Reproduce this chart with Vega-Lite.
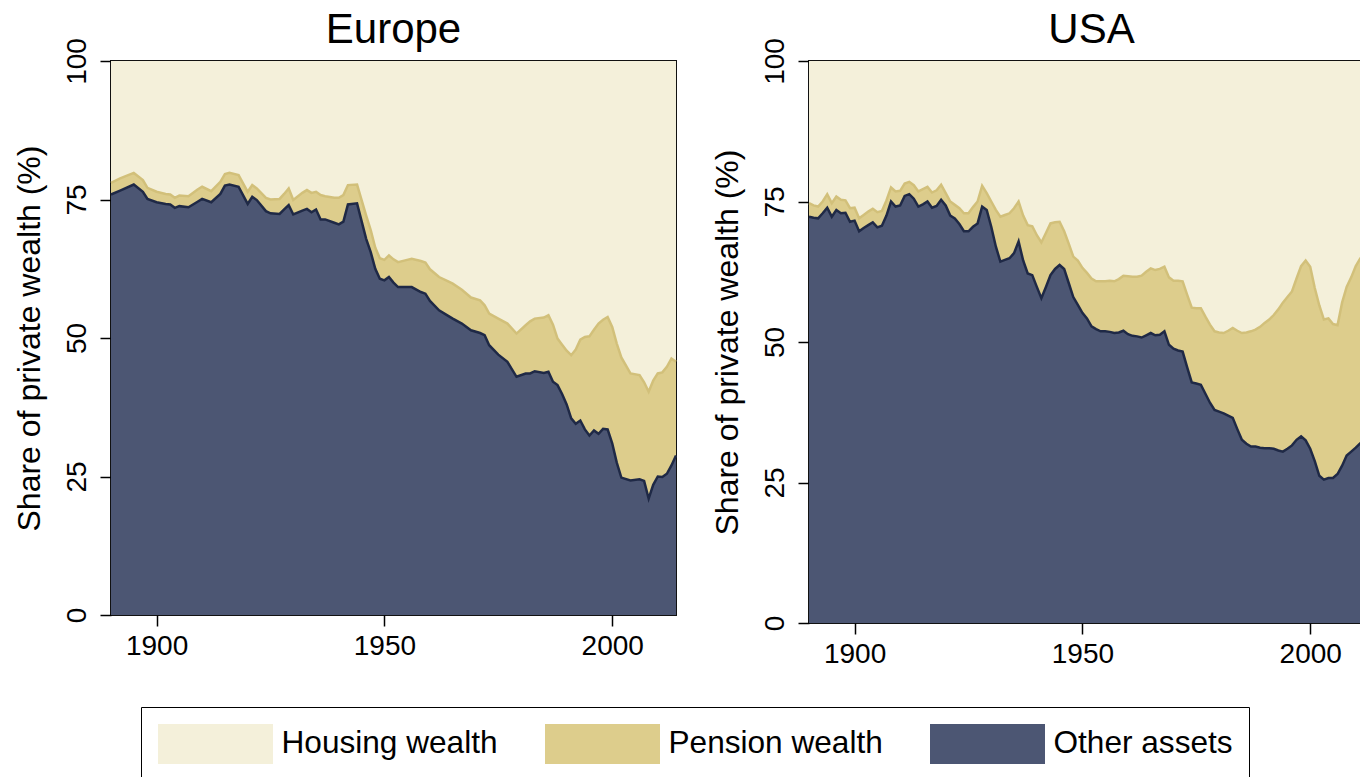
{
  "$schema": "https://vega.github.io/schema/vega-lite/v6.json",
  "padding": {"left": 12, "top": 7, "right": 0, "bottom": 0},
  "background": "white",
  "config": {
    "font": "Liberation Sans",
    "view": {"stroke": "#111111", "strokeWidth": 2},
    "title": {"fontSize": 42, "fontWeight": "normal", "color": "black", "offset": -14, "baseline": "alphabetic", "font": "Liberation Sans"},
    "axis": {"grid": false, "domain": false, "tickColor": "black", "tickWidth": 1.5, "tickSize": 11, "labelFontSize": 28, "labelColor": "black", "titleFontSize": 32, "titleFontWeight": "normal", "titleColor": "black", "labelFont": "Liberation Sans", "titleFont": "Liberation Sans"}
  },
  "datasets": {
    "eu": [
      {"year":1890,"Other assets":75.9,"Pension wealth":2.1,"Housing wealth":22.0},
      {"year":1892,"Other assets":76.6,"Pension wealth":2.2,"Housing wealth":21.2},
      {"year":1895,"Other assets":77.7,"Pension wealth":2.1,"Housing wealth":20.2},
      {"year":1897,"Other assets":76.4,"Pension wealth":2.1,"Housing wealth":21.5},
      {"year":1898,"Other assets":75.1,"Pension wealth":2.0,"Housing wealth":22.9},
      {"year":1900,"Other assets":74.5,"Pension wealth":1.9,"Housing wealth":23.6},
      {"year":1902,"Other assets":74.2,"Pension wealth":1.8,"Housing wealth":24.0},
      {"year":1903,"Other assets":74.1,"Pension wealth":1.8,"Housing wealth":24.1},
      {"year":1904,"Other assets":73.5,"Pension wealth":1.8,"Housing wealth":24.7},
      {"year":1905,"Other assets":73.8,"Pension wealth":1.9,"Housing wealth":24.3},
      {"year":1907,"Other assets":73.6,"Pension wealth":2.0,"Housing wealth":24.4},
      {"year":1909,"Other assets":74.6,"Pension wealth":2.2,"Housing wealth":23.2},
      {"year":1910,"Other assets":75.1,"Pension wealth":2.2,"Housing wealth":22.7},
      {"year":1912,"Other assets":74.5,"Pension wealth":2.0,"Housing wealth":23.5},
      {"year":1914,"Other assets":76.0,"Pension wealth":2.2,"Housing wealth":21.8},
      {"year":1915,"Other assets":77.5,"Pension wealth":2.1,"Housing wealth":20.4},
      {"year":1916,"Other assets":77.7,"Pension wealth":2.1,"Housing wealth":20.2},
      {"year":1918,"Other assets":77.3,"Pension wealth":2.1,"Housing wealth":20.6},
      {"year":1920,"Other assets":74.2,"Pension wealth":2.2,"Housing wealth":23.6},
      {"year":1921,"Other assets":75.5,"Pension wealth":2.1,"Housing wealth":22.4},
      {"year":1922,"Other assets":74.9,"Pension wealth":2.1,"Housing wealth":23.0},
      {"year":1924,"Other assets":72.9,"Pension wealth":2.4,"Housing wealth":24.7},
      {"year":1925,"Other assets":72.5,"Pension wealth":2.5,"Housing wealth":25.0},
      {"year":1927,"Other assets":72.4,"Pension wealth":2.7,"Housing wealth":24.9},
      {"year":1928,"Other assets":73.2,"Pension wealth":2.8,"Housing wealth":24.0},
      {"year":1929,"Other assets":74.0,"Pension wealth":3.0,"Housing wealth":23.0},
      {"year":1930,"Other assets":72.3,"Pension wealth":2.6,"Housing wealth":25.1},
      {"year":1932,"Other assets":73.0,"Pension wealth":3.2,"Housing wealth":23.8},
      {"year":1933,"Other assets":73.3,"Pension wealth":3.4,"Housing wealth":23.3},
      {"year":1934,"Other assets":72.7,"Pension wealth":3.5,"Housing wealth":23.8},
      {"year":1935,"Other assets":73.2,"Pension wealth":3.2,"Housing wealth":23.6},
      {"year":1936,"Other assets":71.4,"Pension wealth":4.4,"Housing wealth":24.2},
      {"year":1937,"Other assets":71.4,"Pension wealth":4.2,"Housing wealth":24.4},
      {"year":1939,"Other assets":70.8,"Pension wealth":4.5,"Housing wealth":24.7},
      {"year":1940,"Other assets":70.5,"Pension wealth":4.8,"Housing wealth":24.7},
      {"year":1941,"Other assets":71.0,"Pension wealth":4.8,"Housing wealth":24.2},
      {"year":1942,"Other assets":74.1,"Pension wealth":3.5,"Housing wealth":22.4},
      {"year":1944,"Other assets":74.3,"Pension wealth":3.4,"Housing wealth":22.3},
      {"year":1946,"Other assets":67.9,"Pension wealth":4.2,"Housing wealth":27.9},
      {"year":1947,"Other assets":65.5,"Pension wealth":4.0,"Housing wealth":30.5},
      {"year":1948,"Other assets":62.5,"Pension wealth":3.8,"Housing wealth":33.7},
      {"year":1949,"Other assets":60.7,"Pension wealth":3.7,"Housing wealth":35.6},
      {"year":1950,"Other assets":60.4,"Pension wealth":3.7,"Housing wealth":35.9},
      {"year":1951,"Other assets":61.0,"Pension wealth":3.9,"Housing wealth":35.1},
      {"year":1952,"Other assets":60.0,"Pension wealth":4.2,"Housing wealth":35.8},
      {"year":1953,"Other assets":59.2,"Pension wealth":4.5,"Housing wealth":36.3},
      {"year":1955,"Other assets":59.2,"Pension wealth":4.9,"Housing wealth":35.9},
      {"year":1956,"Other assets":59.2,"Pension wealth":5.1,"Housing wealth":35.7},
      {"year":1958,"Other assets":58.3,"Pension wealth":5.6,"Housing wealth":36.1},
      {"year":1959,"Other assets":58.0,"Pension wealth":5.6,"Housing wealth":36.4},
      {"year":1960,"Other assets":56.7,"Pension wealth":5.7,"Housing wealth":37.6},
      {"year":1962,"Other assets":55.0,"Pension wealth":6.0,"Housing wealth":39.0},
      {"year":1964,"Other assets":54.0,"Pension wealth":6.2,"Housing wealth":39.8},
      {"year":1965,"Other assets":53.5,"Pension wealth":6.3,"Housing wealth":40.2},
      {"year":1967,"Other assets":52.6,"Pension wealth":6.1,"Housing wealth":41.3},
      {"year":1969,"Other assets":51.4,"Pension wealth":5.9,"Housing wealth":42.7},
      {"year":1971,"Other assets":50.9,"Pension wealth":5.9,"Housing wealth":43.2},
      {"year":1972,"Other assets":50.5,"Pension wealth":5.4,"Housing wealth":44.1},
      {"year":1973,"Other assets":48.7,"Pension wealth":5.7,"Housing wealth":45.6},
      {"year":1975,"Other assets":47.0,"Pension wealth":6.5,"Housing wealth":46.5},
      {"year":1977,"Other assets":45.7,"Pension wealth":6.9,"Housing wealth":47.4},
      {"year":1979,"Other assets":43.0,"Pension wealth":7.8,"Housing wealth":49.2},
      {"year":1981,"Other assets":43.6,"Pension wealth":8.7,"Housing wealth":47.7},
      {"year":1982,"Other assets":43.6,"Pension wealth":9.4,"Housing wealth":47.0},
      {"year":1983,"Other assets":44.0,"Pension wealth":9.5,"Housing wealth":46.5},
      {"year":1985,"Other assets":43.7,"Pension wealth":10.0,"Housing wealth":46.3},
      {"year":1986,"Other assets":43.9,"Pension wealth":10.2,"Housing wealth":45.9},
      {"year":1987,"Other assets":42.1,"Pension wealth":10.3,"Housing wealth":47.6},
      {"year":1988,"Other assets":41.5,"Pension wealth":8.4,"Housing wealth":50.1},
      {"year":1989,"Other assets":39.9,"Pension wealth":8.9,"Housing wealth":51.2},
      {"year":1990,"Other assets":38.0,"Pension wealth":9.7,"Housing wealth":52.3},
      {"year":1991,"Other assets":35.5,"Pension wealth":11.4,"Housing wealth":53.1},
      {"year":1992,"Other assets":34.5,"Pension wealth":13.4,"Housing wealth":52.1},
      {"year":1993,"Other assets":35.1,"Pension wealth":14.6,"Housing wealth":50.3},
      {"year":1994,"Other assets":33.5,"Pension wealth":16.7,"Housing wealth":49.8},
      {"year":1995,"Other assets":32.4,"Pension wealth":17.9,"Housing wealth":49.7},
      {"year":1996,"Other assets":33.3,"Pension wealth":18.2,"Housing wealth":48.5},
      {"year":1997,"Other assets":32.7,"Pension wealth":19.9,"Housing wealth":47.4},
      {"year":1998,"Other assets":33.6,"Pension wealth":19.7,"Housing wealth":46.7},
      {"year":1999,"Other assets":33.5,"Pension wealth":20.3,"Housing wealth":46.2},
      {"year":2000,"Other assets":31.0,"Pension wealth":21.0,"Housing wealth":48.0},
      {"year":2001,"Other assets":27.5,"Pension wealth":21.5,"Housing wealth":51.0},
      {"year":2002,"Other assets":24.8,"Pension wealth":21.7,"Housing wealth":53.5},
      {"year":2004,"Other assets":24.3,"Pension wealth":19.3,"Housing wealth":56.4},
      {"year":2006,"Other assets":24.5,"Pension wealth":18.8,"Housing wealth":56.7},
      {"year":2007,"Other assets":24.2,"Pension wealth":17.8,"Housing wealth":58.0},
      {"year":2008,"Other assets":21.0,"Pension wealth":19.3,"Housing wealth":59.7},
      {"year":2009,"Other assets":23.5,"Pension wealth":18.8,"Housing wealth":57.7},
      {"year":2010,"Other assets":25.0,"Pension wealth":18.6,"Housing wealth":56.4},
      {"year":2011,"Other assets":24.9,"Pension wealth":18.9,"Housing wealth":56.2},
      {"year":2012,"Other assets":25.5,"Pension wealth":19.3,"Housing wealth":55.2},
      {"year":2013,"Other assets":27.0,"Pension wealth":19.3,"Housing wealth":53.7},
      {"year":2014,"Other assets":28.8,"Pension wealth":16.9,"Housing wealth":54.3}
    ],
    "us": [
      {"year":1890,"Other assets":72.3,"Pension wealth":2.4,"Housing wealth":25.3},
      {"year":1891,"Other assets":72.1,"Pension wealth":2.2,"Housing wealth":25.7},
      {"year":1892,"Other assets":72.0,"Pension wealth":2.1,"Housing wealth":25.9},
      {"year":1893,"Other assets":72.9,"Pension wealth":2.1,"Housing wealth":25.0},
      {"year":1894,"Other assets":73.9,"Pension wealth":2.4,"Housing wealth":23.7},
      {"year":1895,"Other assets":72.3,"Pension wealth":2.4,"Housing wealth":25.3},
      {"year":1896,"Other assets":73.5,"Pension wealth":2.4,"Housing wealth":24.1},
      {"year":1897,"Other assets":72.9,"Pension wealth":2.4,"Housing wealth":24.7},
      {"year":1898,"Other assets":73.0,"Pension wealth":2.2,"Housing wealth":24.8},
      {"year":1899,"Other assets":71.4,"Pension wealth":2.4,"Housing wealth":26.2},
      {"year":1900,"Other assets":71.6,"Pension wealth":2.3,"Housing wealth":26.1},
      {"year":1901,"Other assets":69.7,"Pension wealth":2.3,"Housing wealth":28.0},
      {"year":1902,"Other assets":70.3,"Pension wealth":2.3,"Housing wealth":27.4},
      {"year":1903,"Other assets":70.8,"Pension wealth":2.4,"Housing wealth":26.8},
      {"year":1904,"Other assets":71.3,"Pension wealth":2.4,"Housing wealth":26.3},
      {"year":1905,"Other assets":70.4,"Pension wealth":2.7,"Housing wealth":26.9},
      {"year":1906,"Other assets":70.7,"Pension wealth":2.6,"Housing wealth":26.7},
      {"year":1907,"Other assets":72.5,"Pension wealth":2.7,"Housing wealth":24.8},
      {"year":1908,"Other assets":75.0,"Pension wealth":2.5,"Housing wealth":22.5},
      {"year":1909,"Other assets":74.1,"Pension wealth":2.7,"Housing wealth":23.2},
      {"year":1910,"Other assets":74.3,"Pension wealth":2.6,"Housing wealth":23.1},
      {"year":1911,"Other assets":76.0,"Pension wealth":2.2,"Housing wealth":21.8},
      {"year":1912,"Other assets":76.3,"Pension wealth":2.2,"Housing wealth":21.5},
      {"year":1913,"Other assets":75.5,"Pension wealth":2.4,"Housing wealth":22.1},
      {"year":1914,"Other assets":74.1,"Pension wealth":2.7,"Housing wealth":23.2},
      {"year":1915,"Other assets":74.5,"Pension wealth":2.7,"Housing wealth":22.8},
      {"year":1916,"Other assets":75.0,"Pension wealth":2.6,"Housing wealth":22.4},
      {"year":1917,"Other assets":73.9,"Pension wealth":2.7,"Housing wealth":23.4},
      {"year":1918,"Other assets":74.2,"Pension wealth":2.8,"Housing wealth":23.0},
      {"year":1919,"Other assets":75.3,"Pension wealth":2.7,"Housing wealth":22.0},
      {"year":1920,"Other assets":74.3,"Pension wealth":2.2,"Housing wealth":23.5},
      {"year":1921,"Other assets":72.5,"Pension wealth":2.5,"Housing wealth":25.0},
      {"year":1922,"Other assets":72.0,"Pension wealth":2.4,"Housing wealth":25.6},
      {"year":1923,"Other assets":71.0,"Pension wealth":2.8,"Housing wealth":26.2},
      {"year":1924,"Other assets":69.7,"Pension wealth":3.2,"Housing wealth":27.1},
      {"year":1925,"Other assets":69.7,"Pension wealth":3.2,"Housing wealth":27.1},
      {"year":1926,"Other assets":70.5,"Pension wealth":3.5,"Housing wealth":26.0},
      {"year":1927,"Other assets":71.1,"Pension wealth":3.9,"Housing wealth":25.0},
      {"year":1928,"Other assets":74.1,"Pension wealth":3.7,"Housing wealth":22.2},
      {"year":1929,"Other assets":73.5,"Pension wealth":3.0,"Housing wealth":23.5},
      {"year":1930,"Other assets":70.5,"Pension wealth":4.5,"Housing wealth":25.0},
      {"year":1931,"Other assets":67.0,"Pension wealth":6.5,"Housing wealth":26.5},
      {"year":1932,"Other assets":64.3,"Pension wealth":8.0,"Housing wealth":27.7},
      {"year":1933,"Other assets":64.6,"Pension wealth":8.0,"Housing wealth":27.4},
      {"year":1934,"Other assets":64.9,"Pension wealth":8.0,"Housing wealth":27.1},
      {"year":1935,"Other assets":65.8,"Pension wealth":8.0,"Housing wealth":26.2},
      {"year":1936,"Other assets":67.9,"Pension wealth":7.1,"Housing wealth":25.0},
      {"year":1937,"Other assets":64.5,"Pension wealth":8.0,"Housing wealth":27.5},
      {"year":1938,"Other assets":62.2,"Pension wealth":8.6,"Housing wealth":29.2},
      {"year":1939,"Other assets":61.9,"Pension wealth":8.7,"Housing wealth":29.4},
      {"year":1940,"Other assets":59.8,"Pension wealth":9.2,"Housing wealth":31.0},
      {"year":1941,"Other assets":57.8,"Pension wealth":9.9,"Housing wealth":32.3},
      {"year":1942,"Other assets":59.8,"Pension wealth":9.6,"Housing wealth":30.6},
      {"year":1943,"Other assets":61.9,"Pension wealth":9.2,"Housing wealth":28.9},
      {"year":1944,"Other assets":63.0,"Pension wealth":8.3,"Housing wealth":28.7},
      {"year":1945,"Other assets":63.7,"Pension wealth":7.7,"Housing wealth":28.6},
      {"year":1946,"Other assets":63.0,"Pension wealth":6.7,"Housing wealth":30.3},
      {"year":1947,"Other assets":60.5,"Pension wealth":7.0,"Housing wealth":32.5},
      {"year":1948,"Other assets":58.0,"Pension wealth":7.2,"Housing wealth":34.8},
      {"year":1949,"Other assets":56.6,"Pension wealth":7.9,"Housing wealth":35.5},
      {"year":1950,"Other assets":55.2,"Pension wealth":8.0,"Housing wealth":36.8},
      {"year":1951,"Other assets":54.2,"Pension wealth":8.1,"Housing wealth":37.7},
      {"year":1952,"Other assets":52.8,"Pension wealth":8.5,"Housing wealth":38.7},
      {"year":1953,"Other assets":52.3,"Pension wealth":8.5,"Housing wealth":39.2},
      {"year":1954,"Other assets":51.9,"Pension wealth":8.9,"Housing wealth":39.2},
      {"year":1955,"Other assets":51.9,"Pension wealth":8.9,"Housing wealth":39.2},
      {"year":1956,"Other assets":51.8,"Pension wealth":9.1,"Housing wealth":39.1},
      {"year":1957,"Other assets":51.6,"Pension wealth":9.2,"Housing wealth":39.2},
      {"year":1958,"Other assets":51.7,"Pension wealth":9.5,"Housing wealth":38.8},
      {"year":1959,"Other assets":52.0,"Pension wealth":9.8,"Housing wealth":38.2},
      {"year":1960,"Other assets":51.4,"Pension wealth":10.3,"Housing wealth":38.3},
      {"year":1961,"Other assets":51.1,"Pension wealth":10.5,"Housing wealth":38.4},
      {"year":1962,"Other assets":51.0,"Pension wealth":10.6,"Housing wealth":38.4},
      {"year":1963,"Other assets":50.8,"Pension wealth":11.0,"Housing wealth":38.2},
      {"year":1964,"Other assets":51.2,"Pension wealth":11.3,"Housing wealth":37.5},
      {"year":1965,"Other assets":51.6,"Pension wealth":11.5,"Housing wealth":36.9},
      {"year":1966,"Other assets":51.2,"Pension wealth":11.6,"Housing wealth":37.2},
      {"year":1967,"Other assets":51.3,"Pension wealth":11.7,"Housing wealth":37.0},
      {"year":1968,"Other assets":51.9,"Pension wealth":11.5,"Housing wealth":36.6},
      {"year":1969,"Other assets":49.5,"Pension wealth":12.0,"Housing wealth":38.5},
      {"year":1970,"Other assets":48.8,"Pension wealth":12.1,"Housing wealth":39.1},
      {"year":1971,"Other assets":48.5,"Pension wealth":12.4,"Housing wealth":39.1},
      {"year":1972,"Other assets":48.3,"Pension wealth":12.5,"Housing wealth":39.2},
      {"year":1973,"Other assets":45.5,"Pension wealth":12.9,"Housing wealth":41.6},
      {"year":1974,"Other assets":42.8,"Pension wealth":13.3,"Housing wealth":43.9},
      {"year":1975,"Other assets":42.6,"Pension wealth":13.4,"Housing wealth":44.0},
      {"year":1976,"Other assets":42.4,"Pension wealth":13.6,"Housing wealth":44.0},
      {"year":1977,"Other assets":40.8,"Pension wealth":13.7,"Housing wealth":45.5},
      {"year":1978,"Other assets":39.2,"Pension wealth":13.9,"Housing wealth":46.9},
      {"year":1979,"Other assets":37.9,"Pension wealth":14.0,"Housing wealth":48.1},
      {"year":1980,"Other assets":37.6,"Pension wealth":14.1,"Housing wealth":48.3},
      {"year":1981,"Other assets":37.3,"Pension wealth":14.3,"Housing wealth":48.4},
      {"year":1982,"Other assets":36.9,"Pension wealth":15.1,"Housing wealth":48.0},
      {"year":1983,"Other assets":36.5,"Pension wealth":16.0,"Housing wealth":47.5},
      {"year":1984,"Other assets":34.5,"Pension wealth":17.5,"Housing wealth":48.0},
      {"year":1985,"Other assets":32.6,"Pension wealth":19.0,"Housing wealth":48.4},
      {"year":1986,"Other assets":31.9,"Pension wealth":19.8,"Housing wealth":48.3},
      {"year":1987,"Other assets":31.4,"Pension wealth":20.5,"Housing wealth":48.1},
      {"year":1988,"Other assets":31.4,"Pension wealth":20.8,"Housing wealth":47.8},
      {"year":1989,"Other assets":31.2,"Pension wealth":21.5,"Housing wealth":47.3},
      {"year":1990,"Other assets":31.1,"Pension wealth":22.3,"Housing wealth":46.6},
      {"year":1991,"Other assets":31.1,"Pension wealth":22.9,"Housing wealth":46.0},
      {"year":1992,"Other assets":31.0,"Pension wealth":23.8,"Housing wealth":45.2},
      {"year":1993,"Other assets":30.7,"Pension wealth":25.1,"Housing wealth":44.2},
      {"year":1994,"Other assets":30.5,"Pension wealth":26.5,"Housing wealth":43.0},
      {"year":1995,"Other assets":31.0,"Pension wealth":27.0,"Housing wealth":42.0},
      {"year":1996,"Other assets":31.6,"Pension wealth":27.4,"Housing wealth":41.0},
      {"year":1997,"Other assets":32.6,"Pension wealth":28.7,"Housing wealth":38.7},
      {"year":1998,"Other assets":33.2,"Pension wealth":30.3,"Housing wealth":36.5},
      {"year":1999,"Other assets":32.5,"Pension wealth":32.0,"Housing wealth":35.5},
      {"year":2000,"Other assets":31.0,"Pension wealth":32.4,"Housing wealth":36.6},
      {"year":2001,"Other assets":28.8,"Pension wealth":30.8,"Housing wealth":40.4},
      {"year":2002,"Other assets":26.2,"Pension wealth":30.3,"Housing wealth":43.5},
      {"year":2003,"Other assets":25.5,"Pension wealth":28.5,"Housing wealth":46.0},
      {"year":2004,"Other assets":25.8,"Pension wealth":28.4,"Housing wealth":45.8},
      {"year":2005,"Other assets":25.8,"Pension wealth":27.4,"Housing wealth":46.8},
      {"year":2006,"Other assets":26.5,"Pension wealth":26.5,"Housing wealth":47.0},
      {"year":2007,"Other assets":28.0,"Pension wealth":29.0,"Housing wealth":43.0},
      {"year":2008,"Other assets":29.8,"Pension wealth":30.0,"Housing wealth":40.2},
      {"year":2009,"Other assets":30.5,"Pension wealth":31.0,"Housing wealth":38.5},
      {"year":2010,"Other assets":31.2,"Pension wealth":32.3,"Housing wealth":36.5},
      {"year":2011,"Other assets":32.0,"Pension wealth":32.9,"Housing wealth":35.1},
      {"year":2012,"Other assets":32.5,"Pension wealth":33.0,"Housing wealth":34.5},
      {"year":2013,"Other assets":33.0,"Pension wealth":33.0,"Housing wealth":34.0},
      {"year":2014,"Other assets":33.3,"Pension wealth":33.2,"Housing wealth":33.5}
    ]
  },
  "spacing": 28,
  "resolve": {"scale": {"color": "shared", "stroke": "shared"}, "legend": {"color": "shared"}},
  "hconcat": [
    {
      "title": "Europe",
      "width": 565,
      "height": 554,
      "data": {"name": "eu"},
      "transform": [
        {"fold": ["Other assets", "Pension wealth", "Housing wealth"], "as": ["cat", "val"]},
        {"stack": "val", "groupby": ["year"], "as": ["v0", "v1"]}
      ],
      "encoding": {
        "x": {"field": "year", "type": "quantitative", "scale": {"domain": [1890, 2014], "nice": false, "zero": false}, "axis": {"values": [1900, 1950, 2000], "format": "d", "title": null, "labelPadding": 6}},
        "y": {"field": "v1", "type": "quantitative", "scale": {"domain": [0, 100], "nice": false}, "axis": {"values": [0, 25, 50, 75, 100], "title": "Share of private wealth (%)", "labelAngle": -90, "labelAlign": "center", "labelBaseline": "bottom", "labelPadding": 9, "titlePadding": 17}}
      },
      "layer": [
        {
          "mark": {"type": "area"},
          "encoding": {
            "y2": {"field": "v0"},
            "color": {"field": "cat", "type": "nominal",
              "scale": {"domain": ["Housing wealth", "Pension wealth", "Other assets"], "range": ["#F4F0DA", "#DDCD8C", "#4C5673"]},
              "legend": {"orient": "none", "legendX": 30, "legendY": 646, "direction": "horizontal", "columns": 3, "title": null, "strokeColor": "black", "padding": 16, "symbolType": "M-2.875,-1H2.875V1H-2.875Z", "symbolSize": 1600, "symbolOffset": 37.5, "labelOffset": 45, "columnPadding": 46, "labelFontSize": 31.6, "labelColor": "black", "labelFont": "Liberation Sans", "labelLimit": 0, "symbolOpacity": 1}
            }
          }
        },
        {
          "transform": [{"filter": {"field": "cat", "oneOf": ["Other assets", "Pension wealth"]}}],
          "mark": {"type": "line", "strokeWidth": 2.5},
          "encoding": {
            "stroke": {"field": "cat", "type": "nominal", "scale": {"domain": ["Pension wealth", "Other assets"], "range": ["#D2C07A", "#1F2946"]}, "legend": null}
          }
        }
      ]
    },
    {
      "title": "USA",
      "width": 565,
      "height": 562,
      "data": {"name": "us"},
      "transform": [
        {"fold": ["Other assets", "Pension wealth", "Housing wealth"], "as": ["cat", "val"]},
        {"stack": "val", "groupby": ["year"], "as": ["v0", "v1"]}
      ],
      "encoding": {
        "x": {"field": "year", "type": "quantitative", "scale": {"domain": [1890, 2014], "nice": false, "zero": false}, "axis": {"values": [1900, 1950, 2000], "format": "d", "title": null, "labelPadding": 6}},
        "y": {"field": "v1", "type": "quantitative", "scale": {"domain": [0, 100], "nice": false}, "axis": {"values": [0, 25, 50, 75, 100], "title": "Share of private wealth (%)", "labelAngle": -90, "labelAlign": "center", "labelBaseline": "bottom", "labelPadding": 9, "titlePadding": 17}}
      },
      "layer": [
        {
          "mark": {"type": "area"},
          "encoding": {
            "y2": {"field": "v0"},
            "color": {"field": "cat", "type": "nominal",
              "scale": {"domain": ["Housing wealth", "Pension wealth", "Other assets"], "range": ["#F4F0DA", "#DDCD8C", "#4C5673"]},
              "legend": {"orient": "none", "legendX": 30, "legendY": 646, "direction": "horizontal", "columns": 3, "title": null, "strokeColor": "black", "padding": 16, "symbolType": "M-2.875,-1H2.875V1H-2.875Z", "symbolSize": 1600, "symbolOffset": 37.5, "labelOffset": 45, "columnPadding": 46, "labelFontSize": 31.6, "labelColor": "black", "labelFont": "Liberation Sans", "labelLimit": 0, "symbolOpacity": 1}
            }
          }
        },
        {
          "transform": [{"filter": {"field": "cat", "oneOf": ["Other assets", "Pension wealth"]}}],
          "mark": {"type": "line", "strokeWidth": 2.5},
          "encoding": {
            "stroke": {"field": "cat", "type": "nominal", "scale": {"domain": ["Pension wealth", "Other assets"], "range": ["#D2C07A", "#1F2946"]}, "legend": null}
          }
        }
      ]
    }
  ]
}
